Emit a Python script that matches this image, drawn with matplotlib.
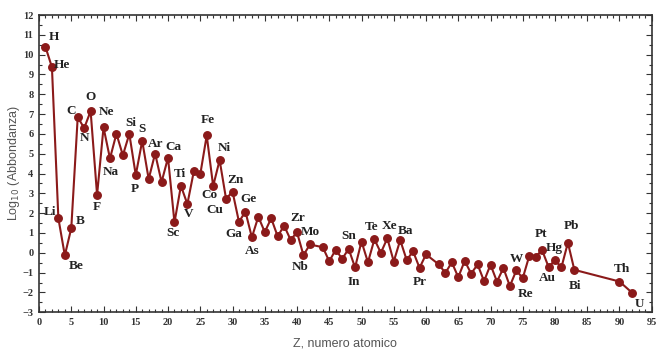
import matplotlib
matplotlib.use("Agg")
import matplotlib.pyplot as plt
from matplotlib.ticker import MultipleLocator

# Numero atomico (Tc, Pm, 84-89 e 91 assenti)
z = [1, 2, 3, 4, 5, 6, 7, 8, 9, 10, 11, 12, 13, 14, 15, 16, 17, 18, 19, 20,
     21, 22, 23, 24, 25, 26, 27, 28, 29, 30, 31, 32, 33, 34, 35, 36, 37, 38, 39, 40,
     41, 42, 44, 45, 46, 47, 48, 49, 50, 51, 52, 53, 54, 55, 56, 57, 58, 59, 60,
     62, 63, 64, 65, 66, 67, 68, 69, 70, 71, 72, 73, 74, 75, 76, 77, 78, 79, 80,
     81, 82, 83, 90, 92]

# log10 dell'abbondanza (Si = 10^6)
log_ab = [10.39, 9.37, 1.74, -0.13, 1.24, 6.85, 6.29, 7.15, 2.92, 6.33,
          4.76, 6.01, 4.92, 6.00, 3.92, 5.65, 3.72, 5.01, 3.57, 4.80,
          1.53, 3.38, 2.46, 4.11, 3.96, 5.92, 3.37, 4.68, 2.72, 3.09,
          1.56, 2.08, 0.78, 1.82, 1.05, 1.74, 0.83, 1.37, 0.66, 1.03,
          -0.12, 0.42, 0.28, -0.43, 0.16, -0.31, 0.20, -0.74, 0.57, -0.48,
          0.68, 0.00, 0.73, -0.44, 0.64, -0.36, 0.07, -0.76, -0.08,
          -0.59, -1.02, -0.48, -1.23, -0.41, -1.05, -0.59, -1.43, -0.60, -1.45,
          -0.77, -1.68, -0.89, -1.28, -0.17, -0.19, 0.13, -0.71, -0.38,
          -0.73, 0.51, -0.86, -1.45, -2.03]

# Elementi etichettati
simboli = ["H", "He", "Li", "Be", "B", "C", "N", "O", "F", "Ne", "Na", "Si", "P", "S",
           "Ar", "Ca", "Sc", "Ti", "V", "Fe", "Co", "Ni", "Cu", "Zn", "Ga", "Ge", "As",
           "Zr", "Nb", "Mo", "Sn", "In", "Te", "Xe", "Ba", "Pr", "W", "Re", "Pt", "Au",
           "Hg", "Pb", "Bi", "Th", "U"]
z_simboli = [1, 2, 3, 4, 5, 6, 7, 8, 9, 10, 11, 14, 15, 16,
             18, 20, 21, 22, 23, 26, 27, 28, 29, 30, 31, 32, 33,
             40, 41, 42, 50, 49, 52, 54, 56, 59, 74, 75, 78, 79,
             80, 82, 83, 90, 92]

# spostamento etichetta (pixel) rispetto al punto
spost = {
    "H": (8, 10), "He": (10, 2), "Li": (-8, 6), "Be": (11, -11), "B": (9, 7),
    "C": (-7, 6), "N": (0, -10), "O": (0, 14), "F": (0, -12), "Ne": (3, 15),
    "Na": (1, -14), "Si": (1, 11), "P": (-1, -14), "S": (0, 12), "Ar": (1, 10),
    "Ca": (5, 11), "Sc": (-2, -11), "Ti": (-1, 12), "V": (1, -10), "Fe": (1, 15),
    "Co": (-4, -9), "Ni": (5, 12), "Cu": (-11, -11), "Zn": (3, 12), "Ga": (-5, -12),
    "Ge": (3, 13), "As": (0, -14), "Zr": (1, 14), "Nb": (-3, -12), "Mo": (0, 12),
    "Sn": (-13, 6), "In": (-1, -15), "Te": (-3, 12), "Xe": (2, 12), "Ba": (5, 9),
    "Pr": (0, -14), "W": (0, 11), "Re": (3, -16), "Pt": (-1, 16), "Au": (-1, -11),
    "Hg": (-1, 12), "Pb": (4, 17), "Bi": (1, -16), "Th": (2, 13), "U": (7, -11),
}

rosso = "#8b1a1a"

fig = plt.figure(figsize=(6.57, 3.51), dpi=100)
ax = fig.add_axes([0.0594, 0.1104, 0.9326, 0.8468])

ax.plot(z, log_ab, color=rosso, lw=1.5, marker="o", ms=5.4, zorder=3)

for s, zs in zip(simboli, z_simboli):
    y = log_ab[z.index(zs)]
    dx, dy = spost[s]
    ax.annotate(s, (zs, y), xytext=(dx, dy), textcoords="offset pixels",
                ha="center", va="center", fontsize=9.5, fontweight="bold",
                family="Liberation Serif", color="#222222")

ax.set_xlim(0, 95)
ax.set_ylim(-3, 12)
ax.xaxis.set_major_locator(MultipleLocator(5))
ax.xaxis.set_minor_locator(MultipleLocator(1))
ax.yaxis.set_major_locator(MultipleLocator(1))
ax.yaxis.set_minor_locator(MultipleLocator(0.5))
ax.tick_params(which="both", direction="in", top=True, right=True, width=0.8, color="#333333")
ax.tick_params(which="major", length=4, labelsize=7.5, pad=4)
ax.tick_params(which="minor", length=2)
for lab in ax.get_xticklabels() + ax.get_yticklabels():
    lab.set_family("Liberation Serif")
    lab.set_fontweight("bold")
    lab.set_color("#333333")
for sp in ax.spines.values():
    sp.set_linewidth(1.2)
    sp.set_color("#333333")

ax.set_xlabel("Z, numero atomico", fontsize=9, color="#555555", family="Liberation Sans", labelpad=8)
ax.set_ylabel("Log$_{10}$ (Abbondanza)", fontsize=9, color="#555555", family="Liberation Sans", labelpad=0)

plt.savefig("out.png", dpi=100)
